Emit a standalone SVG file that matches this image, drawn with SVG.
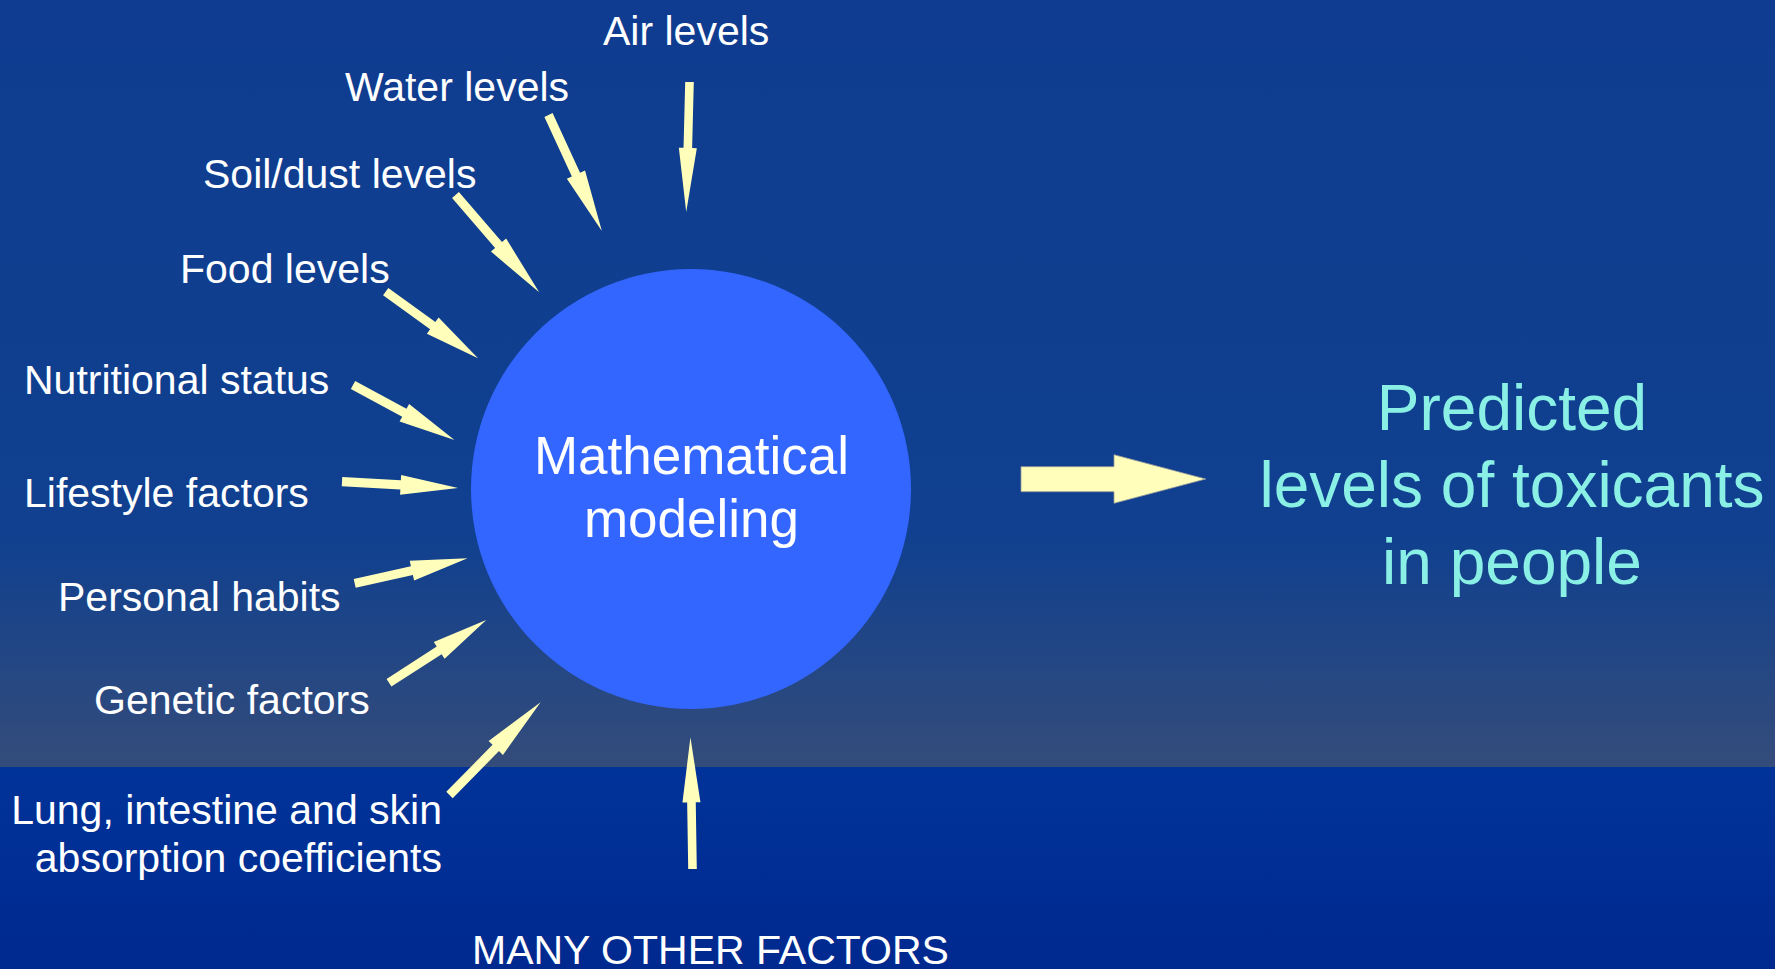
<svg xmlns="http://www.w3.org/2000/svg" width="1775" height="969" viewBox="0 0 1775 969">
  <defs>
    <linearGradient id="skyGrad" x1="0" y1="0" x2="0" y2="767" gradientUnits="userSpaceOnUse">
      <stop offset="0" stop-color="#0F3C90"/>
      <stop offset="0.7" stop-color="#10408F"/>
      <stop offset="1" stop-color="#344C7A"/>
    </linearGradient>
    <linearGradient id="floorGrad" x1="0" y1="767" x2="0" y2="969" gradientUnits="userSpaceOnUse">
      <stop offset="0" stop-color="#003399"/>
      <stop offset="1" stop-color="#00298F"/>
    </linearGradient>
    <style>
      .label { font-family: "Liberation Sans", Arial, sans-serif; font-size: 41px; fill: #FFFFFF; }
      .center { font-family: "Liberation Sans", Arial, sans-serif; font-size: 53px; fill: #FFFFFF; text-anchor: middle; }
      .result { font-family: "Liberation Sans", Arial, sans-serif; font-size: 64px; fill: #8AF0E6; text-anchor: middle; }
      .arr { fill: #FFFFBB; }
      .bigarr { fill: #FFFFBB; stroke: #9A9C9A; stroke-width: 0.8; }
    </style>
  </defs>

  <!-- background -->
  <rect x="0" y="0" width="1775" height="767" fill="url(#skyGrad)"/>
  <rect x="0" y="767" width="1775" height="202" fill="url(#floorGrad)"/>

  <!-- central node -->
  <g id="node-model">
    <circle cx="691" cy="489" r="220" fill="#3366FF"/>
    <text class="center" x="691.5" y="474">Mathematical</text>
    <text class="center" x="691.5" y="537">modeling</text>
  </g>

  <!-- input factor labels -->
  <g id="node-air"><text class="label" x="603" y="44.5">Air levels</text></g>
  <g id="node-water"><text class="label" x="345" y="101">Water levels</text></g>
  <g id="node-soil"><text class="label" x="203" y="187.5">Soil/dust levels</text></g>
  <g id="node-food"><text class="label" x="180" y="282.5">Food levels</text></g>
  <g id="node-nutrition"><text class="label" x="24" y="394">Nutritional status</text></g>
  <g id="node-lifestyle"><text class="label" x="24" y="506.5">Lifestyle factors</text></g>
  <g id="node-habits"><text class="label" x="58" y="611">Personal habits</text></g>
  <g id="node-genetic"><text class="label" x="94" y="714">Genetic factors</text></g>
  <g id="node-absorption">
    <text class="label" x="442" y="824" text-anchor="end">Lung, intestine and skin</text>
    <text class="label" x="442" y="872" text-anchor="end">absorption coefficients</text>
  </g>
  <g id="node-other"><text class="label" x="472" y="964">MANY OTHER FACTORS</text></g>

  <!-- output node -->
  <g id="node-output">
    <text class="result" x="1512" y="430">Predicted</text>
    <text class="result" x="1512" y="507">levels of toxicants</text>
    <text class="result" x="1512" y="584">in people</text>
  </g>

  <!-- connectors: block arrows drawn along +x from the tail, then placed -->
  <g id="connectors">
    <polygon class="arr" transform="translate(689.5,82) rotate(91.45)" points="0,-4.3 66,-4.3 66,-9 130,0 66,9 66,4.3 0,4.3"/>
    <polygon class="arr" transform="translate(548.5,115) rotate(65.3)" points="0,-4.5 65.7,-4.5 65.7,-10 127.7,0 65.7,10 65.7,4.5 0,4.5"/>
    <polygon class="arr" transform="translate(455.5,195) rotate(49.3)" points="0,-4.5 66,-4.5 66,-10 128.3,0 66,10 66,4.5 0,4.5"/>
    <polygon class="arr" transform="translate(385.7,291.7) rotate(35.8)" points="0,-4.5 58,-4.5 58,-10 113.8,0 58,10 58,4.5 0,4.5"/>
    <polygon class="arr" transform="translate(353,385) rotate(28.45)" points="0,-4.5 58.4,-4.5 58.4,-10 115.4,0 58.4,10 58.4,4.5 0,4.5"/>
    <polygon class="arr" transform="translate(342,481.7) rotate(3.1)" points="0,-4.6 58.7,-4.6 58.7,-10 116.2,0 58.7,10 58.7,4.6 0,4.6"/>
    <polygon class="arr" transform="translate(354.7,583.3) rotate(-12.5)" points="0,-4.5 58.6,-4.5 58.6,-10 115.6,0 58.6,10 58.6,4.5 0,4.5"/>
    <polygon class="arr" transform="translate(389,682.7) rotate(-32.8)" points="0,-4.5 59.7,-4.5 59.7,-10 115.7,0 59.7,10 59.7,4.5 0,4.5"/>
    <polygon class="arr" transform="translate(449.5,795) rotate(-45.5)" points="0,-4.5 66,-4.5 66,-10 130,0 66,10 66,4.5 0,4.5"/>
    <polygon class="arr" transform="translate(692.5,869) rotate(-90.9)" points="0,-4.3 66.7,-4.3 66.7,-9 131.7,0 66.7,9 66.7,4.3 0,4.3"/>
    <polygon class="bigarr" points="1021,466.7 1114,466.7 1114,454.7 1205.7,479 1114,503.3 1114,491.7 1021,491.7"/>
  </g>
</svg>
